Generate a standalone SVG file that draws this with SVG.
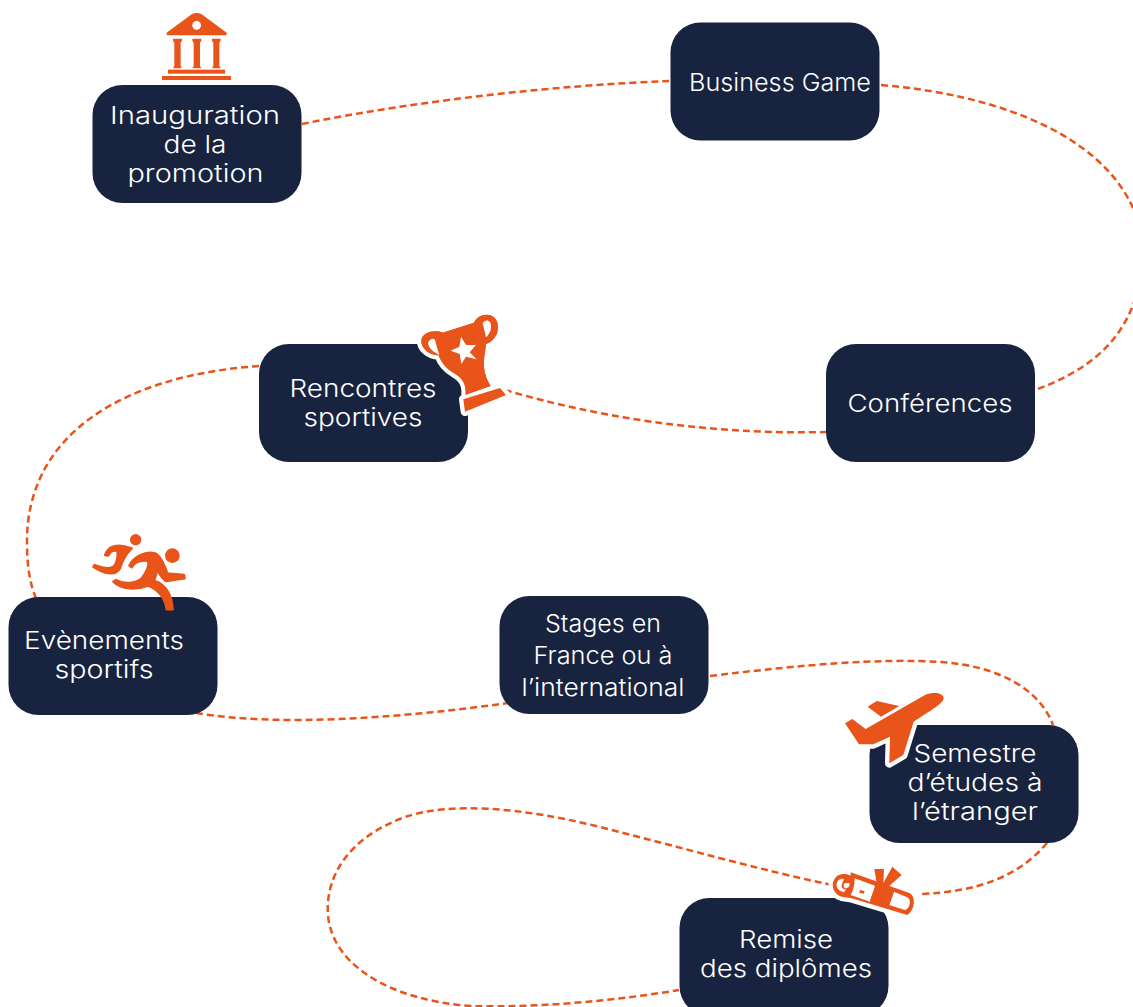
<svg xmlns="http://www.w3.org/2000/svg" width="1133" height="1007" viewBox="0 0 1133 1007">
<style>
.box{fill:#18233f}
.t{font-family:"Inter","Liberation Sans",sans-serif;font-size:24px;font-weight:300;fill:#fff;text-anchor:middle}
.c{fill:none;stroke:#e8541a;stroke-width:2.5;stroke-dasharray:7 4}
.o{fill:#e8541a}
.f{fill:#e8541a;stroke:#e8541a;stroke-width:7;stroke-linejoin:round}
.h{fill:#e8541a;stroke:#fff;stroke-width:26;paint-order:stroke;stroke-linejoin:round}
.w{fill:#fff}
</style>
<rect width="1133" height="1007" fill="#fff"/>
<g id="connectors">
<path class="c" d="M302 124C420 100 560 85 670 81"/>
<path class="c" d="M881 85C1000 95 1100 135 1133 208C1150 245 1145 275 1133 305C1118 345 1085 372 1035 390"/>
<path class="c" d="M827 432C700 435 590 415 505 390"/>
<path class="c" d="M259 366C130 375 25 430 27 545C27 565 30 585 36 598"/>
<path class="c" d="M196 713C280 727 400 718 508 703"/>
<path class="c" d="M710 676C800 665 880 658 940 662C1000 666 1040 690 1053 725"/>
<path class="c" d="M1047 843C1020 875 980 892 920 894"/>
<path class="c" d="M832 885C760 870 680 847 600 827C520 807 450 802 405 817C350 837 325 875 328 915C332 965 390 1000 470 1006C540 1008 620 1000 679 990"/>
</g>
<g id="n-inauguration">
<rect class="box" x="92.500" y="85" width="209" height="118" rx="30"/>
<text class="t" x="195" y="124" textLength="170" lengthAdjust="spacingAndGlyphs">Inauguration</text>
<text class="t" x="195" y="153" textLength="63" lengthAdjust="spacingAndGlyphs">de la</text>
<text class="t" x="195.500" y="182" textLength="136" lengthAdjust="spacingAndGlyphs">promotion</text>
<g transform="translate(90 0) scale(.3333)">
<path class="o" d="M230 98L305 43Q320 35 335 43L410 98Q412 106 405 106H235Q228 106 230 98Z"/>
<circle class="w" cx="320" cy="76" r="13"/>
<path class="o" d="M249 116H276V122L272 128V198L276 205H249L253 198V128L249 122ZM307 116H334V122L330 128V198L334 205H307L311 198V128L307 122ZM366 116H392V122L388 128V198L392 205H366L370 198V128L366 122Z"/>
<rect class="o" x="234" y="209" width="171" height="12"/>
<rect class="o" x="216" y="228" width="207" height="12"/>
</g>
</g>
<g id="n-business">
<rect class="box" x="670.500" y="22.500" width="209" height="118" rx="30"/>
<text class="t" x="780" y="91" textLength="182" lengthAdjust="spacingAndGlyphs">Business Game</text>
</g>
<g id="n-conferences">
<rect class="box" x="826" y="344" width="209" height="118" rx="30"/>
<text class="t" x="930" y="412" textLength="165" lengthAdjust="spacingAndGlyphs">Conférences</text>
</g>
<g id="n-rencontres">
<rect class="box" x="259" y="344" width="209" height="118" rx="30"/>
<text class="t" x="363" y="397" textLength="147" lengthAdjust="spacingAndGlyphs">Rencontres</text>
<text class="t" x="363" y="426" textLength="119" lengthAdjust="spacingAndGlyphs">sportives</text>
<g transform="translate(400 300) scale(.3333)">
<path class="h" d="M128 98L222 68C235 38 285 33 293 72C298 105 278 125 258 132C255 170 240 205 272 258L197 285C200 250 185 232 160 218C140 207 125 190 116 166C88 166 62 145 64 120C68 95 105 88 128 98Z"/>
<path class="h" d="M190 298L300 264L318 285L195 335Z"/>
<path class="o" d="M128 98L222 68C235 38 285 33 293 72C298 105 278 125 258 132C255 170 240 205 272 258L197 285C200 250 185 232 160 218C140 207 125 190 116 166C88 166 62 145 64 120C68 95 105 88 128 98Z"/>
<path class="w" d="M84 128C92 110 108 115 106 125L118 165C100 155 85 145 84 128ZM248 70C255 55 275 60 273 80C273 95 265 105 258 112Z"/>
<path class="w" d="M183 110L198 135L228 135L209 157L230 178L198 170L184 192L179 162L152 152L178 140Z"/>
</g>
</g>
<g id="n-evenements">
<rect class="box" x="8.500" y="597" width="209" height="118" rx="30"/>
<text class="t" x="104" y="649" textLength="160" lengthAdjust="spacingAndGlyphs">Evènements</text>
<text class="t" x="104" y="678" textLength="99" lengthAdjust="spacingAndGlyphs">sportifs</text>
<g transform="translate(80 525) scale(.3333)">
<circle class="o" cx="167" cy="44" r="17"/>
<circle class="o" cx="277" cy="92" r="22"/>
<path class="f" d="M75 90C85 60 115 55 155 70C140 85 125 110 120 130C105 155 70 145 40 125L44 120C70 130 95 135 105 120C112 105 115 90 112 78C100 75 90 80 85 92Z"/>
<path class="f" d="M148 122C160 95 195 78 225 85C240 90 250 110 262 145L312 150L314 160L258 168C245 160 240 150 232 135C228 150 225 160 222 168C250 175 275 200 278 253L260 253C255 215 235 195 205 182C170 195 125 195 100 170L108 165C135 180 165 175 185 160C200 140 208 125 205 108C185 105 165 110 155 127Z"/>
</g>
</g>
<g id="n-stages">
<rect class="box" x="499.500" y="596" width="209" height="118" rx="30"/>
<text class="t" x="603" y="632" textLength="116" lengthAdjust="spacingAndGlyphs">Stages en</text>
<text class="t" x="603" y="664" textLength="139" lengthAdjust="spacingAndGlyphs">France ou à</text>
<text class="t" x="603" y="696" textLength="163" lengthAdjust="spacingAndGlyphs">l’international</text>
</g>
<g id="n-semestre">
<rect class="box" x="869.500" y="725" width="209" height="118" rx="30"/>
<text class="t" x="975" y="762" textLength="123" lengthAdjust="spacingAndGlyphs">Semestre</text>
<text class="t" x="975" y="791" textLength="135" lengthAdjust="spacingAndGlyphs">d’études à</text>
<text class="t" x="975" y="820" textLength="126" lengthAdjust="spacingAndGlyphs">l’étranger</text>
<g transform="translate(835 680) scale(.3333)">
<path class="h" d="M30 130L52 117L92 147L270 45C295 35 325 38 326 55C325 70 290 90 236 125L205 225L163 250L165 170L115 193L72 193Z"/>
<path class="o" d="M98 80L125 63L193 78L138 110Z"/>
</g>
</g>
<g id="n-remise">
<rect class="box" x="679.500" y="898" width="209" height="118" rx="30"/>
<text class="t" x="786" y="948" textLength="94" lengthAdjust="spacingAndGlyphs">Remise</text>
<text class="t" x="786" y="977" textLength="172" lengthAdjust="spacingAndGlyphs">des diplômes</text>
<g transform="translate(820 855) scale(.3333)">
<path class="h" d="M52 62C65 55 82 56 92 62L92 52L270 115C288 125 285 165 262 180L95 130L65 125C35 115 30 80 52 62Z"/>
<path class="w" d="M50 88C52 74 62 70 72 72L66 86C62 96 68 104 78 103L72 112C58 108 48 100 50 88ZM72 85L88 84C90 95 84 100 76 100C70 98 70 92 72 85Z"/>
<path class="w" d="M104 70L165 92L150 140L92 120C100 105 104 90 104 70Z"/>
<path class="o" d="M120 105L134 108L131 116L118 113Z"/>
<path class="w" d="M222 110L265 128C275 140 268 160 255 165L208 150Z"/>
<path class="o" d="M163 42L192 42L190 84L217 35L245 60L205 95L222 108L207 152L150 136L170 85Z"/>
</g>
</g>
</svg>
